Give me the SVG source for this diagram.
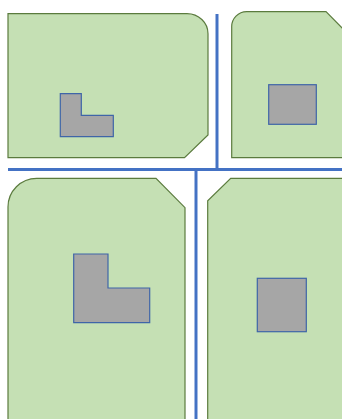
<svg xmlns="http://www.w3.org/2000/svg" width="342" height="419" viewBox="0 0 342 419">
<style>
.lot{fill:#C5E0B4;stroke:#5B7B3E;stroke-width:1.2}
.bld{fill:#A6A6A6;stroke:#3F65A8;stroke-width:1.2}
.road{stroke:#4472C4;stroke-width:3;fill:none}
</style>
<rect width="342" height="419" fill="#FFFFFF"/>
<g id="connectors">
<line class="road" x1="217" y1="14" x2="217" y2="169"/>
<line class="road" x1="8" y1="169.5" x2="342" y2="169.5"/>
<line class="road" x1="196" y1="169" x2="196" y2="419"/>
</g>
<g id="lot-top-left">
<path class="lot" d="M8,13.7 H187 A21,20 0 0 1 208,33.7 V135 L184.5,157.7 H8 Z"/>
<path class="bld" d="M60.3,93.7 H81.3 V115.3 H113.3 V136.7 H60.3 Z"/>
</g>
<g id="lot-top-right">
<path class="lot" d="M231.7,157.7 V27 A15,15 0 0 1 246.7,11.7 H326 L345,31 V157.7 Z"/>
<rect class="bld" x="268.7" y="84.7" width="47.6" height="39.6"/>
</g>
<g id="lot-bottom-left">
<path class="lot" d="M8,425 V207 A28.7,28.7 0 0 1 36.7,178.3 H156 L185,207.7 V425 Z"/>
<path class="bld" d="M73.7,254 H108 V288 H149.7 V322.7 H73.7 Z"/>
</g>
<g id="lot-bottom-right">
<path class="lot" d="M207.7,425 V200.7 L230.7,178.3 H345 V425 Z"/>
<rect class="bld" x="257.3" y="278.3" width="49" height="53.4"/>
</g>
</svg>
